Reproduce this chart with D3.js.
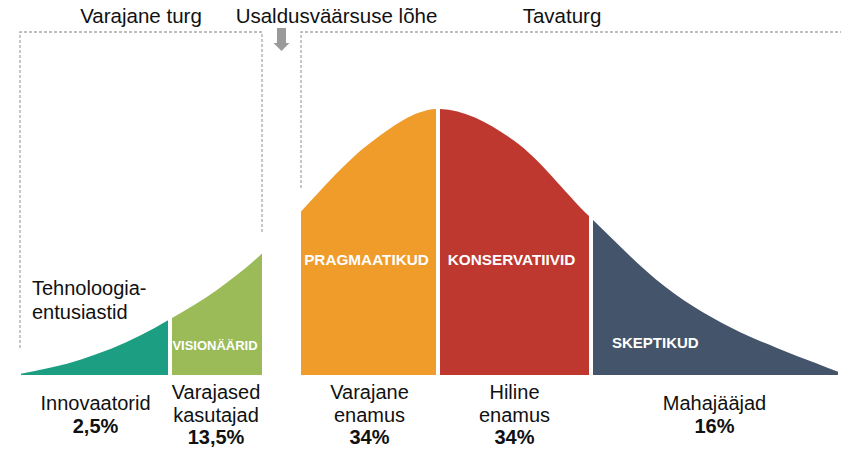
<!DOCTYPE html>
<html>
<head>
<meta charset="utf-8">
<script src="https://d3js.org/d3.v7.min.js"></script>
<style>
  body { margin: 0; background: #fff; }
  text { font-family: "Liberation Sans", Arial, sans-serif; }
</style>
</head>
<body>
<div id="chart"></div>
<script>
// adoption groups, left to right
var groupLines = [["Innovaatorid"], ["Varajased", "kasutajad"], ["Varajane", "enamus"], ["Hiline", "enamus"], ["Mahajääjad"]];
var shares = [2.5, 13.5, 34, 34, 16];
var profiles = ["", "VISIONÄÄRID", "PRAGMAATIKUD", "KONSERVATIIVID", "SKEPTIKUD"];
var colors = ["#1b9e82", "#9bbb59", "#f09c2a", "#be3830", "#44546a"];
// segment limits in standard deviations (the chasm sits between -1.25 and -1)
var bounds = [[-3, -1.76], [-1.76, -1.25], [-1, 0], [0, 1], [1, 2.65]];

// bell curve: position (sd) and relative height
var curveZ = [-3, -2.5, -2, -1.76, -1.5, -1.25, -1, -0.5, 0, 0.5, 1, 1.5, 2, 2.25, 2.5, 2.65];
var curveH = [0.005, 0.058, 0.15, 0.21, 0.32, 0.457, 0.615, 0.87, 1, 0.88, 0.59, 0.33, 0.16, 0.1, 0.045, 0.012];

var markets = ["Varajane turg", "Usaldusväärsuse lõhe", "Tavaturg"];
var enthusiasts = ["Tehnoloogia-", "entusiastid"];

var W = 841, H = 472;
var svg = d3.select("#chart").append("svg")
    .attr("width", W)
    .attr("height", H);

// x is stretched differently on each stretch of the curve, so a polylinear scale
var x = d3.scaleLinear()
    .domain([-3, -1.76, -1.25, -1, 0, 1, 2.65])
    .range([21, 170, 262, 301, 438, 591, 838]);
var y = d3.scaleLinear().domain([0, 1]).range([375, 109]);

var pts = curveZ.map(function(z, i) { return {z: z, h: curveH[i]}; });
var area = d3.area()
    .x(function(d) { return x(d.z); })
    .y0(y(0))
    .y1(function(d) { return y(d.h); })
    .curve(d3.curveMonotoneX);

var fmt = d3.formatLocale({decimal: ",", thousands: " ", grouping: [3], currency: ["", ""]}).format(".1~f");

// dashed boxes for the two markets
var dash = svg.append("g")
    .attr("fill", "none")
    .attr("stroke", "#aaa")
    .attr("stroke-width", 1.3)
    .attr("stroke-dasharray", "3,2");
dash.append("path").attr("d", "M20,348V32H" + x(-1.25) + "V232");
dash.append("path").attr("d", "M" + x(-1) + ",188V32H" + W);

// gap arrow
var ax = (x(-1.25) + x(-1)) / 2;
svg.append("path")
    .attr("fill", "#9a9a9a")
    .attr("d", "M" + (ax - 4.5) + ",28h9v15h3.5l-8,8l-8,-8h3.5z");

// one clip per segment, then the whole curve drawn through it
var defs = svg.append("defs");
var gap = 2;
bounds.forEach(function(b, i) {
  var x0 = x(b[0]), x1 = x(b[1]);
  if (i > 0 && bounds[i - 1][1] === b[0]) x0 += gap;
  if (i < bounds.length - 1 && bounds[i + 1][0] === b[1]) x1 -= gap;
  defs.append("clipPath").attr("id", "seg" + i)
    .append("rect")
      .attr("x", x0).attr("y", 0)
      .attr("width", x1 - x0).attr("height", y(0));
  svg.append("path")
    .datum(pts)
    .attr("d", area)
    .attr("fill", colors[i])
    .attr("clip-path", "url(#seg" + i + ")");
});

// white labels inside the segments
var inner = svg.append("g")
    .attr("fill", "#fff")
    .attr("font-weight", "bold");
profiles.forEach(function(p, i) {
  if (!p) return;
  var mid = (x(bounds[i][0]) + x(bounds[i][1])) / 2;
  var t = inner.append("text").text(p);
  if (i === 1) {
    t.attr("x", mid - 1).attr("y", 350).attr("text-anchor", "middle").attr("font-size", 13);
  } else if (i === 4) {
    t.attr("x", x(bounds[i][0]) + 21).attr("y", 348).attr("font-size", 15);
  } else {
    t.attr("x", mid - 3).attr("y", 265).attr("text-anchor", "middle").attr("font-size", 15.3);
  }
});

// market titles
var titleX = [141, ax + 55, 562];
svg.append("g").selectAll("text")
  .data(markets).enter()
  .append("text")
    .attr("x", function(d, i) { return titleX[i]; })
    .attr("y", 23)
    .attr("text-anchor", "middle")
    .attr("font-size", 20.5)
    .attr("fill", "#111")
    .text(function(d) { return d; });

svg.append("g").selectAll("text")
  .data(enthusiasts).enter()
  .append("text")
    .attr("x", 32)
    .attr("y", function(d, i) { return 295 + i * 24; })
    .attr("font-size", 20)
    .attr("fill", "#111")
    .text(function(d) { return d; });

// group names and shares under the curve
groupLines.forEach(function(lines, i) {
  var cx = (x(bounds[i][0]) + x(bounds[i][1])) / 2;
  var top = 410 - (lines.length - 1) * 11;
  var g = svg.append("g").attr("text-anchor", "middle").attr("font-size", 20).attr("fill", "#111");
  lines.forEach(function(l, j) {
    g.append("text").attr("x", cx).attr("y", top + j * 22.5).text(l);
  });
  g.append("text")
    .attr("x", cx)
    .attr("y", top + lines.length * 22.5)
    .attr("font-weight", "bold")
    .text(fmt(shares[i]) + "%");
});
</script>
</body>
</html>
